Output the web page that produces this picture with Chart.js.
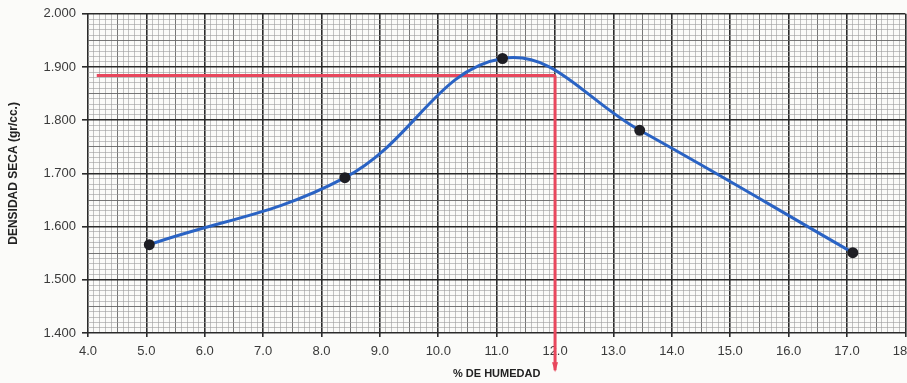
<!DOCTYPE html>
<html>
<head>
<meta charset="utf-8">
<script src="https://cdn.jsdelivr.net/npm/chart.js@4/dist/chart.umd.min.js"></script>
<style>
  html, body { margin: 0; padding: 0; background: #fbfbf9; overflow: hidden; }
  #wrap { width: 925px; height: 383px; }
</style>
</head>
<body>
<div id="wrap"><canvas id="chart" width="925" height="383"></canvas></div>
<script>
// Ensayo Proctor: puntos medidos
const humedad = [5.05, 8.4, 11.1, 13.45, 17.1];
const densidad = [1.566, 1.692, 1.916, 1.781, 1.551];

// Humedad optima / densidad maxima (lineas rojas)
const optHumedad = 12.0;
const maxDensidad = 1.884;
const redLineStartX = 4.15;
const arrowEndY = 1.33;

// Ejes
const xMin = 4, xMax = 18, xStep = 0.1;
const yMin = 1.4, yMax = 2.0, yStep = 0.01;

const RED = "#e8475d";

const isMajorX = v => Math.abs(v - Math.round(v)) < 1e-6;
const isHalfX = v => Math.abs(v * 2 - Math.round(v * 2)) < 1e-6;
const isMajorY = v => Math.abs(v * 10 - Math.round(v * 10)) < 1e-6;
const isHalfY = v => Math.abs(v * 20 - Math.round(v * 20)) < 1e-6;

function gridColor(major, half) {
  return function (ctx) {
    const v = ctx.tick ? ctx.tick.value : 0;
    if (major(v)) return "#2b2b2b";
    if (half(v)) return "#666";
    return "#9c9c9c";
  };
}
function gridWidth(major, half) {
  return function (ctx) {
    const v = ctx.tick ? ctx.tick.value : 0;
    if (major(v)) return 1.6;
    if (half(v)) return 0.9;
    return 0.6;
  };
}

// small arrow head at the bottom end of the red vertical line
const arrowHead = {
  id: "arrowHead",
  afterDatasetsDraw(chart) {
    const x = chart.scales.x.getPixelForValue(optHumedad);
    const y = chart.scales.y.getPixelForValue(arrowEndY);
    const c = chart.ctx;
    c.save();
    c.fillStyle = RED;
    c.beginPath();
    c.moveTo(x - 3, y - 8);
    c.lineTo(x + 3, y - 8);
    c.lineTo(x, y + 2);
    c.closePath();
    c.fill();
    c.restore();
  }
};

const points = humedad.map((x, i) => ({ x: x, y: densidad[i] }));

new Chart(document.getElementById("chart").getContext("2d"), {
  type: "scatter",
  data: {
    datasets: [
      {
        data: points,
        showLine: true,
        borderColor: "#2a63c4",
        borderWidth: 3,
        tension: 0.4,
        pointRadius: 4,
        pointBackgroundColor: "#1e1e24",
        pointBorderColor: "#1e1e24",
        clip: false
      },
      {
        data: [{ x: redLineStartX, y: maxDensidad }, { x: optHumedad, y: maxDensidad }],
        showLine: true,
        borderColor: RED,
        borderWidth: 3,
        pointRadius: 0
      },
      {
        data: [{ x: optHumedad, y: maxDensidad }, { x: optHumedad, y: arrowEndY }],
        showLine: true,
        borderColor: RED,
        borderWidth: 3,
        pointRadius: 0,
        clip: false
      }
    ]
  },
  options: {
    responsive: false,
    animation: false,
    layout: { padding: { top: 8, left: 6, right: 0, bottom: 2 } },
    plugins: {
      legend: { display: false },
      tooltip: { enabled: false }
    },
    scales: {
      x: {
        type: "linear",
        min: xMin,
        max: xMax,
        border: { display: false },
        grid: {
          color: gridColor(isMajorX, isHalfX),
          lineWidth: gridWidth(isMajorX, isHalfX),
          tickLength: 4,
          tickColor: ctx => (isMajorX(ctx.tick.value) ? "#2b2b2b" : "rgba(0,0,0,0)")
        },
        ticks: {
          stepSize: xStep,
          maxTicksLimit: 1000,
          autoSkip: false,
          maxRotation: 0,
          color: "#3a3a3a",
          font: { family: "Liberation Sans, Arial", size: 13 },
          padding: 7,
          callback: v => (isMajorX(v) ? v.toFixed(1) : "")
        },
        title: {
          display: true,
          text: "% DE HUMEDAD",
          color: "#222",
          font: { family: "Liberation Sans, Arial", size: 11, weight: "bold" },
          padding: { top: 2, bottom: 0 }
        },
        afterFit: scale => { scale.height = 48; }
      },
      y: {
        type: "linear",
        min: yMin,
        max: yMax,
        border: { display: false },
        grid: {
          color: gridColor(isMajorY, isHalfY),
          lineWidth: gridWidth(isMajorY, isHalfY),
          tickLength: 6,
          tickColor: ctx => (isMajorY(ctx.tick.value) ? "#2b2b2b" : "rgba(0,0,0,0)")
        },
        ticks: {
          stepSize: yStep,
          maxTicksLimit: 1000,
          autoSkip: false,
          color: "#3a3a3a",
          font: { family: "Liberation Sans, Arial", size: 13 },
          padding: 6,
          callback: v => (isMajorY(v) ? v.toFixed(3) : "")
        },
        title: {
          display: true,
          text: "DENSIDAD SECA (gr/cc.)",
          color: "#222",
          font: { family: "Liberation Sans, Arial", size: 12, weight: "bold" },
          padding: { top: 0, bottom: 4 }
        },
        afterFit: scale => { scale.width = 82; }
      }
    }
  },
  plugins: [arrowHead]
});
</script>
</body>
</html>
